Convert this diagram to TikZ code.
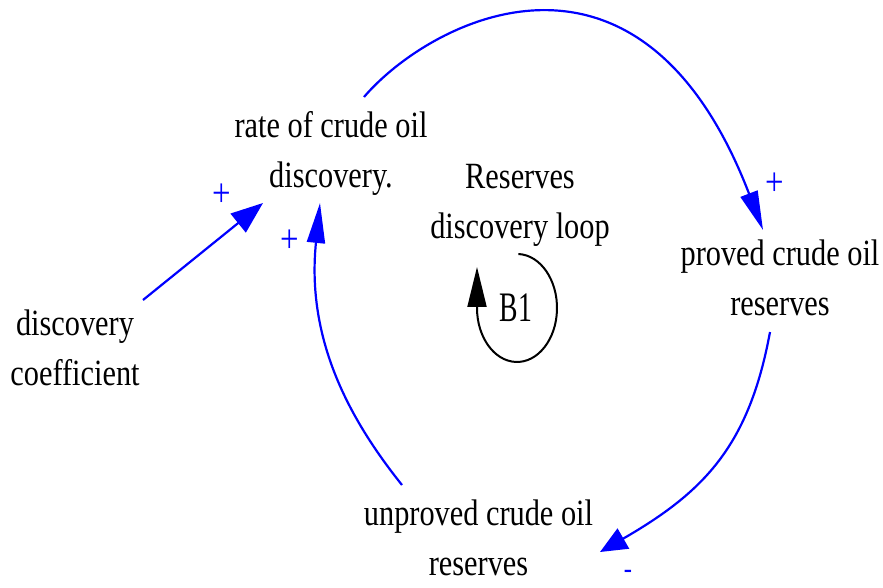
\documentclass[tikz,border=0pt]{standalone}
\usepackage{fontspec}
\setmainfont{Liberation Serif}[FakeStretch=0.82]
\newfontfamily\loopfont{Liberation Serif}[FakeStretch=0.66]
\usetikzlibrary{arrows.meta,calc}
\definecolor{linkblue}{RGB}{0,0,255}
\begin{document}
\begin{tikzpicture}[x=1pt,y=-1pt,
  var/.style={align=center,inner sep=0pt,font=\fontsize{37}{50}\selectfont},
  looplabel/.style={align=center,inner sep=0pt,font=\fontsize{37}{50}\selectfont},
  loopid/.style={inner sep=0pt,font=\loopfont\fontsize{42}{42}\selectfont},
  pol/.style={text=linkblue,inner sep=0pt,font=\fontsize{40}{40}\selectfont},
  negpol/.style={text=linkblue,inner sep=0pt,font=\fontsize{30}{30}\selectfont},
  link/.style={draw=linkblue,fill=none,line width=2.2pt},
  loopline/.style={draw=black,line width=2pt}
]
\useasboundingbox[fill=white] (0,0) rectangle (883,587);

% variables
\node[var] (rate) at (331,153) {rate of crude oil\\discovery.};
\node[var] (proved) at (780,278) {proved crude oil\\reserves};
\node[var] (coef) at (75,348) {discovery\\coefficient};
\node[var] (unproved) at (478.5,538) {unproved crude oil\\reserves};
\node[looplabel] (loopname) at (520,205) {Reserves\\discovery loop};
\node[loopid] (b1) at (516,308) {B1};

% links
\draw[link,-{Triangle[length=32pt,width=24pt,fill=linkblue]}]
  ($(coef)+(68,-48)$) -- ($(rate)+(-68,50)$);
\draw[link,-{Triangle[length=40pt,width=18pt,fill=linkblue]}]
  ($(unproved)+(-76.5,-53)$) .. controls +(-52,-65) and +(-14,137) .. ($(rate)+(-11,50)$);
\draw[link,-{Triangle[length=39pt,width=18pt,fill=linkblue]}]
  ($(rate)+(33,-56)$) .. controls +(66,-77) and +(-123,-320) .. ($(proved)+(-17,-48)$);
\draw[link,-{Triangle[length=27pt,width=23pt,fill=linkblue]}]
  ($(proved)+(-10,54)$) .. controls +(-21,114) and +(104,-60) .. ($(unproved)+(121.5,14)$);

% polarities
\node[pol] (pa) at (222,195) {+};
\node[pol] (pb) at (290,241) {+};
\node[pol] (pc) at (775,184) {+};
\node[negpol] (pd) at (628,574) {-};

% loop symbol
\draw[loopline,-{Triangle[length=40pt,width=19pt]}]
  ($(b1)+(2.4,-54)$) arc[start angle=-88,end angle=180,x radius=40,y radius=54] -- ++(0,-41);
\end{tikzpicture}
\end{document}
